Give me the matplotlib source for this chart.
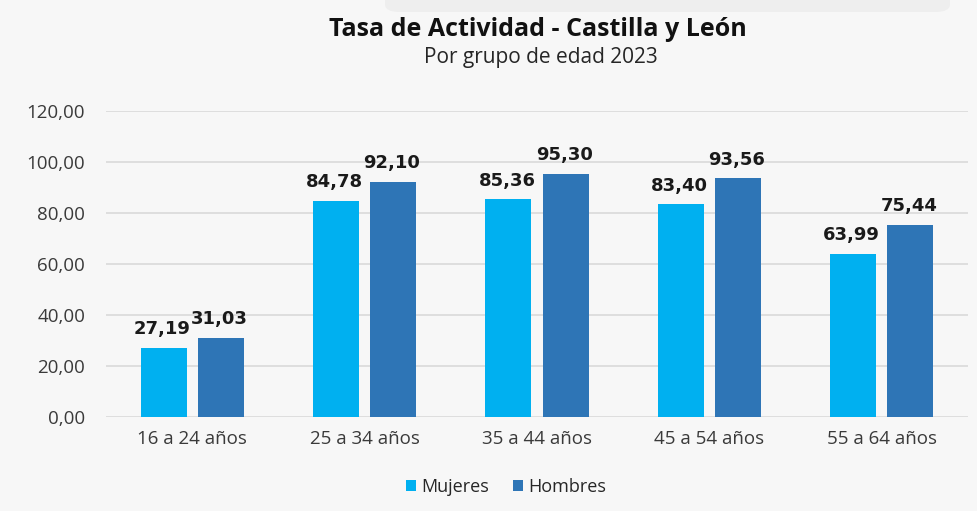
import numpy as np
import matplotlib.pyplot as plt
from matplotlib.patches import FancyBboxPatch

grupos = ['16 a 24 años', '25 a 34 años', '35 a 44 años', '45 a 54 años', '55 a 64 años']
mujeres = [27.19, 84.78, 85.36, 83.40, 63.99]
hombres = [31.03, 92.10, 95.30, 93.56, 75.44]
yticks = [0, 20, 40, 60, 80, 100, 120]

c_muj = '#00b0f0'
c_hom = '#2e75b6'
bg = '#f7f7f7'


def fmt(v):
    return '{:.2f}'.format(v).replace('.', ',')


fig = plt.figure(figsize=(9.78, 5.11), dpi=100, facecolor=bg)
ax = fig.add_axes([106 / 978, 1 - 417 / 511, 862 / 978, 306 / 511])
ax.set_facecolor(bg)

# faint band at the top of the screenshot
fig.patches.append(FancyBboxPatch((385 / 978, 1 - 12 / 511), 565 / 978, 20 / 511,
                                  boxstyle='round,pad=0,rounding_size=0.015',
                                  transform=fig.transFigure, facecolor='#eeeeee',
                                  edgecolor='none', zorder=0))

x = np.arange(len(grupos))
w = 0.267
off = 0.166
b1 = ax.bar(x - off, mujeres, w, color=c_muj, label='Mujeres', zorder=3)
b2 = ax.bar(x + off, hombres, w, color=c_hom, label='Hombres', zorder=3)

for bars, vals in ((b1, mujeres), (b2, hombres)):
    for r, v in zip(bars, vals):
        ax.annotate(fmt(v), (r.get_x() + r.get_width() / 2, v), xytext=(-1, 7),
                    textcoords='offset points', ha='center', va='bottom',
                    fontsize=13, fontweight='bold', family='DejaVu Sans', color='#1a1a1a')

ax.set_xlim(-0.5, 4.5)
ax.set_ylim(0, 120)
ax.set_yticks(yticks)
ax.set_yticklabels([fmt(t) for t in yticks], family='Open Sans', fontsize=13.5, color='#3a3a3a')
ax.set_xticks(x)
ax.set_xticklabels(grupos, family='Open Sans', fontsize=13.5, color='#3a3a3a')
ax.tick_params(axis='y', length=0, pad=15)
ax.tick_params(axis='x', length=0, pad=9)
ax.grid(axis='y', color='#d9d9d9', linewidth=1.2, zorder=0)
for s in ax.spines.values():
    s.set_visible(False)

fig.text(538 / 978, 1 - 30 / 511, 'Tasa de Actividad - Castilla y León', ha='center', va='center',
         family='Open Sans', fontweight='bold', fontsize=18, color='#111111')
fig.text(541 / 978, 1 - 58 / 511, 'Por grupo de edad 2023', ha='center', va='center',
         family='Open Sans', fontsize=15, color='#262626')

fig.legend(handles=[b1, b2], loc='center', bbox_to_anchor=(506 / 978, 1 - 487 / 511), ncol=2,
           frameon=False, prop={'family': 'Open Sans', 'size': 13}, handlelength=0.55,
           handleheight=0.55, handletextpad=0.3, columnspacing=1.3, labelcolor='#262626')

fig.savefig('out.png', dpi=100, facecolor=bg)
